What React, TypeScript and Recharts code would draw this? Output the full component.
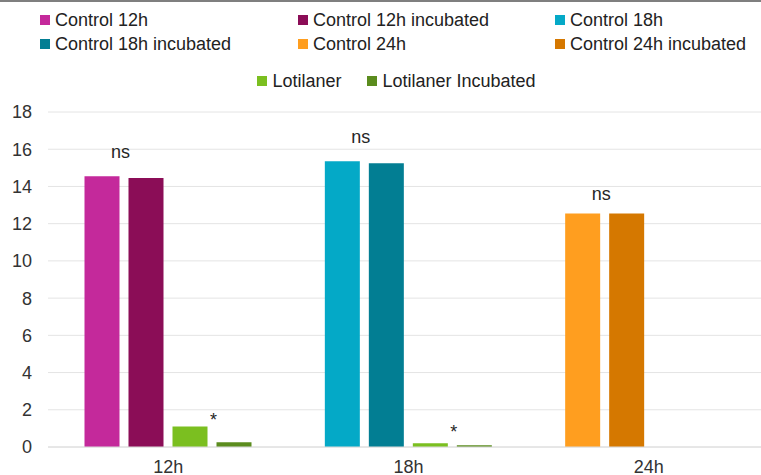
import { BarChart, Bar, XAxis, YAxis, CartesianGrid, Legend, LabelList, Cell } from 'recharts';

const timepoints = ['12h', '18h', '24h'];
const controlValues = [14.55, 15.35, 12.55];
const controlIncubatedValues = [14.45, 15.25, 12.55];
const lotilanerValues = [1.1, 0.2, null];
const lotilanerIncubatedValues = [0.25, 0.1, null];

const yTicks = [0, 2, 4, 6, 8, 10, 12, 14, 16, 18];

// significance marks and the height (in axis units) they sit at
const nsLabels = ['ns', 'ns', 'ns'];
const nsHeights = [15.8, 16.6, 13.5];
const starLabels = ['*', '*', ''];
const starHeights = [1.7, 1.05, null];

const seriesNames = [
    'Control 12h',
    'Control 12h incubated',
    'Control 18h',
    'Control 18h incubated',
    'Control 24h',
    'Control 24h incubated',
    'Lotilaner',
    'Lotilaner Incubated',
];
const seriesColors = ['#C4299B', '#8B0D57', '#04A9C7', '#027E93', '#FF9E1F', '#D57800', '#7BBF20', '#5B8C1E'];

const controlColors = [seriesColors[0], seriesColors[2], seriesColors[4]];
const controlIncubatedColors = [seriesColors[1], seriesColors[3], seriesColors[5]];

const data = timepoints.map((t, i) => ({
    time: t,
    control: controlValues[i],
    controlIncubated: controlIncubatedValues[i],
    lotilaner: lotilanerValues[i],
    lotilanerIncubated: lotilanerIncubatedValues[i],
}));

const FONT = '"Liberation Sans", Arial, sans-serif';

// places a text mark at a given value, using the bar's own pixel scale
function markLabel(texts: string[], heights: (number | null)[], dy: string, dx: number) {
    return (props: any) => {
        const { x, y, width, height, value, index } = props;
        const h = heights[index];
        if (!texts[index] || h == null || !value) return null;
        const base = Number(y) + Number(height);
        const perUnit = Number(height) / Number(value);
        return (
            <text
                x={Number(x) + Number(width) + dx}
                y={base - h * perUnit}
                dy={dy}
                textAnchor="middle"
                fontSize={18}
                fontFamily={FONT}
                fill="#262626"
            >
                {texts[index]}
            </text>
        );
    };
}

function LegendItem({ name, color }: { name: string; color: string }) {
    return (
        <div style={{ display: 'flex', alignItems: 'center', height: 24 }}>
            <span style={{ width: 10, height: 10, background: color, marginRight: 5, display: 'inline-block' }} />
            <span>{name}</span>
        </div>
    );
}

function ChartLegend() {
    return (
        <div style={{ height: 102, fontFamily: FONT, fontSize: 18, color: '#222', boxSizing: 'border-box', paddingTop: 8 }}>
            <div style={{ display: 'grid', gridTemplateColumns: '258px 257px auto', paddingLeft: 40 }}>
                {seriesNames.slice(0, 6).map((n, i) => (
                    <LegendItem key={n} name={n} color={seriesColors[i]} />
                ))}
            </div>
            <div style={{ display: 'flex', justifyContent: 'center', gap: 26, marginTop: 13, paddingLeft: 32 }}>
                {seriesNames.slice(6).map((n, i) => (
                    <LegendItem key={n} name={n} color={seriesColors[6 + i]} />
                ))}
            </div>
        </div>
    );
}

export default function App() {
    return (
        <div style={{ position: 'absolute', left: 0, top: 0, width: 761, height: 475, background: '#fff', overflow: 'hidden' }}>
            <div style={{ position: 'absolute', left: 0, top: 0, width: 761, height: 2, background: '#7f7f7f', zIndex: 2 }} />
            {/* plot runs a little past the right edge, so the last category is clipped */}
            <BarChart
                width={769}
                height={475}
                data={data}
                margin={{ top: 10, right: 0, bottom: 0, left: 0 }}
                barCategoryGap={36.5}
                barGap={9}
            >
                <CartesianGrid vertical={false} stroke="#e4e4e4" />
                <XAxis
                    dataKey="time"
                    height={28}
                    tickLine={false}
                    axisLine={{ stroke: '#dcdcdc' }}
                    tickMargin={7}
                    tick={{ fontSize: 18, fontFamily: FONT, fill: '#333' }}
                />
                <YAxis
                    width={48}
                    domain={[0, 18]}
                    ticks={yTicks}
                    axisLine={false}
                    tickLine={false}
                    tickMargin={10}
                    tick={{ fontSize: 18, fontFamily: FONT, fill: '#333' }}
                />
                <Legend verticalAlign="top" wrapperStyle={{ top: 0, left: 0, width: 761 }} content={() => <ChartLegend />} />
                <Bar dataKey="control" isAnimationActive={false}>
                    {data.map((d, i) => (
                        <Cell key={d.time} fill={controlColors[i]} />
                    ))}
                    <LabelList dataKey="control" content={markLabel(nsLabels, nsHeights, '0.26em', 1)} />
                </Bar>
                <Bar dataKey="controlIncubated" isAnimationActive={false}>
                    {data.map((d, i) => (
                        <Cell key={d.time} fill={controlIncubatedColors[i]} />
                    ))}
                </Bar>
                <Bar dataKey="lotilaner" fill={seriesColors[6]} isAnimationActive={false}>
                    <LabelList dataKey="lotilaner" content={markLabel(starLabels, starHeights, '0.58em', 6)} />
                </Bar>
                <Bar dataKey="lotilanerIncubated" fill={seriesColors[7]} isAnimationActive={false} />
            </BarChart>
        </div>
    );
}
